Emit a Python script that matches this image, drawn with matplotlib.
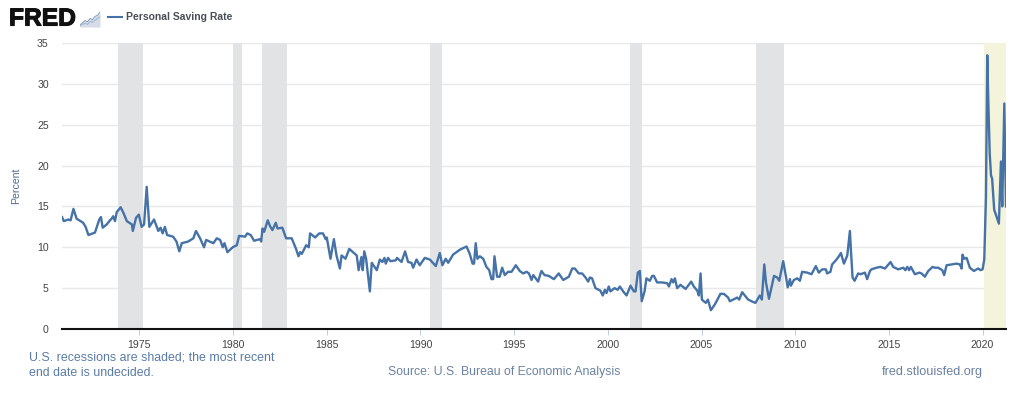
import matplotlib
matplotlib.use("Agg")
import matplotlib.pyplot as plt
import matplotlib.patheffects as pe

plt.rcParams['font.family'] = ['Liberation Sans', 'DejaVu Sans']

# (decimal year, percent)
saving_years = [
    1970.87, 1970.97, 1971.2, 1971.33, 1971.48, 1971.65, 1972.0, 1972.13, 1972.28, 1972.63,
    1972.86, 1972.95, 1973.04, 1973.26, 1973.43, 1973.52, 1973.6, 1973.7, 1973.79, 1974.0,
    1974.15, 1974.33, 1974.6, 1974.65, 1974.82, 1974.97, 1975.12, 1975.25, 1975.39, 1975.53,
    1975.78, 1976.01, 1976.13, 1976.24, 1976.36, 1976.48, 1976.8, 1976.98, 1977.13, 1977.26,
    1977.6, 1977.88, 1978.02, 1978.24, 1978.45, 1978.56, 1978.95, 1979.13, 1979.31, 1979.45,
    1979.54, 1979.7, 1979.98, 1980.2, 1980.32, 1980.64, 1980.76, 1980.94, 1981.12, 1981.44,
    1981.5, 1981.57, 1981.66, 1981.85, 1981.97, 1982.1, 1982.28, 1982.37, 1982.63, 1982.83,
    1983.13, 1983.36, 1983.49, 1983.58, 1983.67, 1983.9, 1984.04, 1984.11, 1984.38, 1984.6,
    1984.8, 1984.94, 1985.0, 1985.2, 1985.38, 1985.52, 1985.7, 1985.79, 1986.0, 1986.2,
    1986.4, 1986.6, 1986.7, 1986.85, 1986.92, 1987.0, 1987.1, 1987.3, 1987.4, 1987.67,
    1987.83, 1987.97, 1988.08, 1988.15, 1988.27, 1988.4, 1988.68, 1988.75, 1988.99, 1989.18,
    1989.34, 1989.52, 1989.61, 1989.79, 1989.96, 1990.23, 1990.5, 1990.82, 1991.03, 1991.17,
    1991.35, 1991.48, 1991.74, 1991.92, 1992.1, 1992.46, 1992.63, 1992.78, 1992.86, 1992.95,
    1993.04, 1993.17, 1993.35, 1993.52, 1993.67, 1993.79, 1993.88, 1993.95, 1994.09, 1994.23,
    1994.36, 1994.5, 1994.68, 1994.86, 1995.09, 1995.3, 1995.48, 1995.66, 1995.79, 1995.93,
    1996.02, 1996.28, 1996.41, 1996.46, 1996.62, 1996.85, 1997.12, 1997.38, 1997.62, 1997.92,
    1998.1, 1998.24, 1998.45, 1998.63, 1998.81, 1998.95, 1999.04, 1999.16, 1999.34, 1999.6,
    1999.73, 1999.84, 1999.93, 2000.05, 2000.14, 2000.36, 2000.53, 2000.64, 2000.82, 2001.0,
    2001.21, 2001.39, 2001.48, 2001.6, 2001.71, 2001.81, 2001.96, 2002.06, 2002.24, 2002.37,
    2002.46, 2002.63, 2002.9, 2003.17, 2003.26, 2003.4, 2003.49, 2003.58, 2003.7, 2003.88,
    2004.15, 2004.32, 2004.45, 2004.59, 2004.77, 2004.86, 2004.95, 2005.02, 2005.12, 2005.23,
    2005.34, 2005.5, 2005.71, 2006.01, 2006.19, 2006.42, 2006.51, 2006.78, 2006.9, 2007.01,
    2007.17, 2007.49, 2007.76, 2007.88, 2008.11, 2008.22, 2008.35, 2008.44, 2008.6, 2008.87,
    2009.04, 2009.15, 2009.36, 2009.5, 2009.6, 2009.72, 2009.77, 2009.93, 2010.11, 2010.25,
    2010.37, 2010.64, 2010.87, 2011.1, 2011.26, 2011.44, 2011.64, 2011.7, 2011.88, 2011.97,
    2012.17, 2012.3, 2012.44, 2012.6, 2012.78, 2012.92, 2012.97, 2013.06, 2013.17, 2013.36,
    2013.48, 2013.72, 2013.84, 2013.99, 2014.07, 2014.34, 2014.55, 2014.79, 2015.09, 2015.23,
    2015.5, 2015.77, 2015.88, 2015.98, 2016.08, 2016.17, 2016.39, 2016.62, 2016.74, 2016.92,
    2017.1, 2017.33, 2017.45, 2017.63, 2017.85, 2017.95, 2018.08, 2018.35, 2018.61, 2018.79,
    2018.88, 2018.93, 2019.02, 2019.15, 2019.32, 2019.54, 2019.68, 2019.77, 2019.89, 2020.0,
    2020.09, 2020.18, 2020.25, 2020.3, 2020.38, 2020.45, 2020.51, 2020.62, 2020.75, 2020.87,
    2020.98, 2021.05, 2021.1, 2021.16, 2021.25,
]
saving_rate = [
    13.7, 13.2, 13.4, 13.3, 14.7, 13.5, 13.0, 12.5, 11.5, 11.8,
    13.4, 13.7, 12.4, 12.8, 13.3, 13.5, 13.8, 13.2, 14.3, 14.9,
    14.2, 13.2, 12.8, 12.0, 13.6, 14.0, 12.5, 12.8, 17.4, 12.5,
    13.4, 12.0, 12.4, 11.7, 12.5, 11.5, 11.3, 10.7, 9.5, 10.5,
    10.7, 11.1, 12.0, 11.1, 10.0, 10.9, 10.5, 11.1, 10.9, 10.0,
    10.5, 9.4, 10.0, 10.25, 11.4, 11.3, 11.7, 11.5, 10.8, 11.0,
    10.7, 12.3, 11.9, 13.3, 12.6, 12.1, 13.0, 12.3, 12.4, 11.1,
    11.1, 9.8, 8.9, 9.4, 9.2, 10.25, 10.0, 11.7, 11.2, 11.7,
    11.7, 11.0, 11.2, 8.6, 11.0, 9.0, 7.4, 9.0, 8.6, 9.8,
    9.4, 9.0, 7.2, 8.8, 7.2, 9.5, 8.6, 4.6, 8.1, 7.2,
    8.5, 8.2, 8.7, 8.0, 8.7, 8.3, 8.4, 8.7, 8.2, 9.5,
    8.2, 8.1, 7.5, 8.5, 7.8, 8.7, 8.5, 7.7, 9.3, 7.8,
    8.6, 8.1, 9.1, 9.4, 9.7, 10.1, 9.2, 8.0, 8.0, 10.5,
    8.6, 8.9, 8.6, 7.6, 7.2, 6.1, 6.1, 8.9, 6.4, 6.4,
    7.5, 6.6, 7.0, 7.0, 7.8, 7.1, 6.8, 7.0, 6.8, 6.0,
    6.6, 5.8, 6.8, 7.1, 6.6, 6.5, 6.1, 6.8, 6.0, 6.4,
    7.4, 7.4, 6.8, 6.8, 6.3, 5.8, 6.3, 6.2, 5.0, 4.7,
    4.1, 4.8, 4.4, 5.2, 4.6, 5.0, 4.8, 5.2, 4.6, 4.1,
    5.3, 4.6, 4.6, 6.9, 7.1, 3.4, 4.6, 6.2, 5.9, 6.5,
    6.5, 5.7, 5.7, 5.6, 5.2, 6.1, 5.7, 6.2, 5.0, 5.4,
    4.9, 5.4, 5.8, 5.2, 4.7, 4.1, 6.8, 3.6, 3.4, 3.2,
    3.6, 2.3, 3.0, 4.3, 4.3, 3.85, 3.4, 3.7, 3.85, 3.6,
    4.5, 3.6, 3.3, 3.2, 4.1, 3.6, 7.9, 5.7, 3.7, 6.5,
    6.3, 5.9, 8.3, 6.5, 5.1, 6.1, 5.3, 6.0, 6.2, 5.9,
    7.0, 6.9, 6.7, 7.7, 6.9, 7.3, 7.3, 6.8, 7.0, 7.9,
    8.4, 8.8, 9.3, 8.0, 9.0, 12.0, 9.8, 6.3, 5.9, 6.8,
    6.7, 6.9, 6.1, 7.1, 7.3, 7.5, 7.6, 7.4, 8.2, 7.6,
    7.3, 7.5, 7.2, 7.6, 7.2, 7.6, 6.7, 6.9, 6.8, 6.4,
    7.1, 7.6, 7.5, 7.5, 7.2, 6.6, 7.8, 7.9, 8.0, 7.9,
    7.4, 9.1, 8.6, 8.7, 7.5, 7.1, 7.3, 7.4, 7.2, 7.3,
    8.5, 16.2, 33.5, 28.4, 21.5, 18.8, 18.4, 14.6, 13.7, 12.9,
    20.5, 15.0, 20.5, 27.6, 15.0,
]

recession_start = [1973.84, 1980.0, 1981.53, 1990.5, 2001.17, 2007.92]
recession_end = [1975.2, 1980.5, 1982.88, 1991.17, 2001.83, 2009.42]
undecided_start = 2020.08
undecided_end = 2021.25

x_ticks = [1975, 1980, 1985, 1990, 1995, 2000, 2005, 2010, 2015, 2020]
y_ticks = [0, 5, 10, 15, 20, 25, 30, 35]

logo_x = [0, 1, 2, 3, 4, 5, 6, 7, 8]
logo_a = [1, 2, 3, 2.5, 4, 3.5, 5, 5.5, 7]
logo_b = [0.5, 1.2, 1.8, 1.2, 2.6, 2.2, 3.2, 4, 4.8]

W, H = 1024, 395
blue = '#4572A7'
text_blue = '#5A7BA6'

fig = plt.figure(figsize=(W / 100, H / 100), dpi=100, facecolor='white')
ax = fig.add_axes([62 / W, 1 - 329 / H, (1006 - 62) / W, (329 - 43) / H])

for s, e in zip(recession_start, recession_end):
    ax.axvspan(s, e, color='#E2E3E5', lw=0, zorder=1)
ax.axvspan(undecided_start, undecided_end, color='#F4F3DC', lw=0, zorder=1)

ax.plot(saving_years, saving_rate, color=blue, lw=1.7, solid_joinstyle='round', zorder=3)

ax.set_xlim(1970.87, 2021.25)
ax.set_ylim(0, 35)
ax.set_xticks(x_ticks)
ax.set_yticks(y_ticks)
ax.grid(axis='y', color='#E8E8E8', lw=1, zorder=0)
ax.set_axisbelow(True)
ax.tick_params(axis='x', length=4, width=0.7, color='#C0D0E0', labelsize=7.6, labelcolor='#444444', pad=4)
ax.tick_params(axis='y', length=0, labelsize=7.6, labelcolor='#444444', pad=9.5)
for side in ['top', 'right', 'left']:
    ax.spines[side].set_visible(False)
ax.spines['bottom'].set_color('#111111')
ax.spines['bottom'].set_linewidth(1.5)
ax.spines['bottom'].set_zorder(4)
ax.set_ylabel('Percent', fontsize=7.6, color='#4D6D94')
ax.yaxis.set_label_coords((21 - 62) / (1006 - 62), 0.5)

# header
fred = fig.text(9 / W, 1 - 18.5 / H, 'FRED', fontsize=17.7, fontweight='bold', color='#111111', va='center')
fred.set_path_effects([pe.withStroke(linewidth=0.8, foreground='#111111')])
logo = fig.add_axes([80 / W, 1 - 27 / H, 20 / W, 17 / H])
logo.fill_between(logo_x, logo_a, color='#D5DCE7', lw=0)
logo.plot(logo_x, logo_a, color='#7F9ABD', lw=0.7)
logo.plot(logo_x, logo_b, color='#A3B5CD', lw=0.7)
logo.set_xlim(0, 8)
logo.set_ylim(0, 8)
logo.axis('off')
fig.add_artist(plt.Line2D([108 / W, 122 / W], [1 - 17 / H, 1 - 17 / H], color=blue, lw=1.5))
fig.text(126 / W, 1 - 17 / H, 'Personal Saving Rate', fontsize=7.5, fontweight='bold', color='#4A4F57', va='center')

# footer
fig.text(29 / W, 1 - 358 / H, 'U.S. recessions are shaded; the most recent', fontsize=8.95, color=text_blue, va='center')
fig.text(29 / W, 1 - 372.5 / H, 'end date is undecided.', fontsize=8.95, color=text_blue, va='center')
fig.text(388 / W, 1 - 372.5 / H, 'Source: U.S. Bureau of Economic Analysis', fontsize=8.87, color='#6A81A0', va='center')
fig.text(882 / W, 1 - 372.5 / H, 'fred.stlouisfed.org', fontsize=9.1, color='#6A81A0', va='center')

fig.savefig('out.png', dpi=100)
